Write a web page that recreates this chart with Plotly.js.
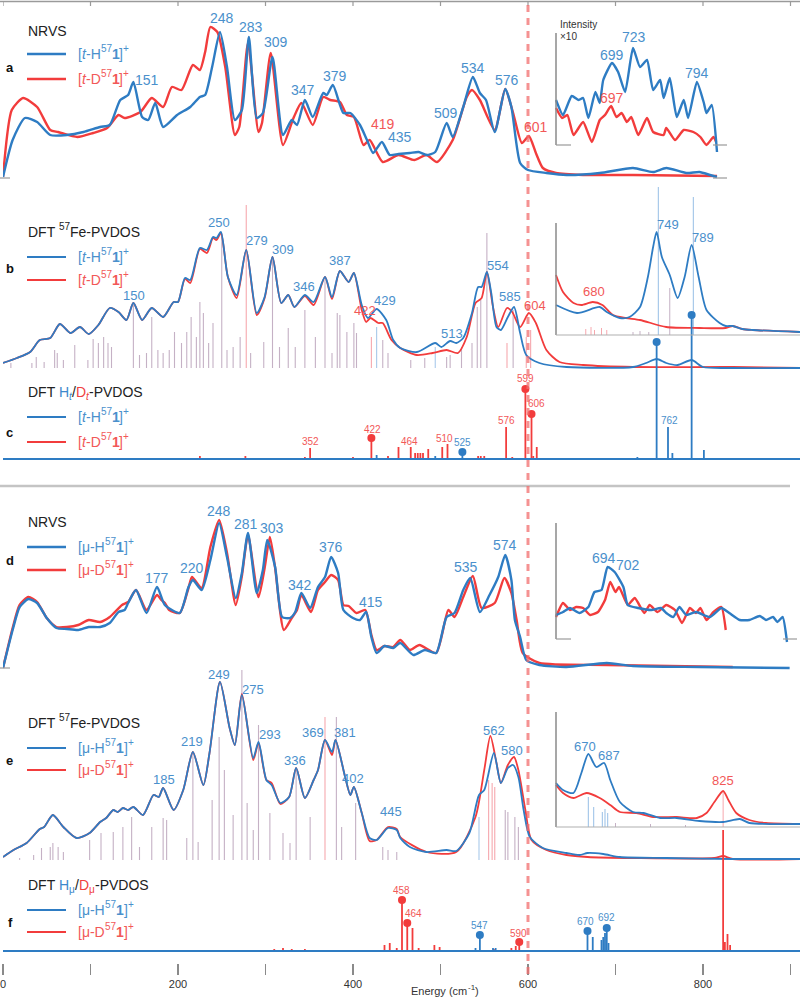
<!DOCTYPE html>
<html><head><meta charset="utf-8">
<script src="https://cdn.plot.ly/plotly-3.0.1.min.js"></script>
<style>html,body{margin:0;padding:0;background:#fff}#chart{width:800px;height:998px}</style>
</head><body><div id="chart"></div>
<script>
// ===== DATA (energy in cm-1, intensity in arbitrary units) =====
const tickVals = [0,200,400,600,800];
const tickText = ['0','200','400','600','800'];
const frameTicks = [0,100,200,300,400,500,600,700,800,900];

// Panel a: NRVS t-isomer
const aH = [[0,0],[11,37],[25,59],[39,55],[54,42],[73,42],[92,45],[111,50],[122,52],[134,77],[143,82],[149,95],[159,60],[166,57],[174,74],[183,50],[199,62],[214,70],[225,80],[231,82],[239,110],[248,145],[256,110],[265,57],[273,67],[281,140],[290,59],[297,64],[308,120],[320,42],[330,57],[336,52],[345,77],[354,60],[366,84],[370,82],[377,92],[389,64],[397,64],[408,52],[416,37],[423,24],[433,35],[442,22],[452,23],[465,24],[475,25],[484,22],[494,25],[507,54],[514,40],[526,70],[537,100],[545,84],[552,77],[562,45],[574,88],[581,70],[591,14],[600,7],[621,4],[644,2],[682,4],[720,9],[743,5],[758,9],[781,4],[796,5],[808,2],[816,0]];
const aD = [[0,0],[10,67],[23,79],[39,70],[54,47],[63,45],[85,40],[103,44],[119,49],[132,62],[139,59],[157,65],[170,79],[183,70],[193,90],[204,87],[217,112],[225,107],[231,125],[237,150],[245,145],[254,110],[265,42],[270,50],[280,134],[292,45],[296,54],[306,124],[320,32],[332,59],[341,74],[354,52],[366,80],[374,77],[385,75],[393,62],[401,60],[412,32],[419,37],[434,15],[452,22],[470,17],[484,22],[496,15],[514,37],[530,80],[536,87],[545,77],[562,47],[574,88],[583,64],[593,34],[601,41],[609,24],[617,9],[632,4],[663,2],[720,2],[816,1]];
const aInH = [[632,45],[640,30],[650,49],[658,45],[663,47],[669,27],[677,53],[682,42],[686,65],[696,82],[703,73],[711,53],[720,97],[728,78],[736,85],[743,55],[751,65],[755,47],[762,67],[770,28],[778,45],[783,27],[793,63],[801,42],[804,32],[810,40],[816,-7]];
const aInD = [[632,37],[639,27],[645,30],[652,10],[663,23],[673,3],[682,25],[688,30],[695,39],[701,28],[707,32],[713,23],[718,28],[726,10],[736,27],[743,13],[755,10],[758,17],[768,5],[778,15],[789,13],[797,8],[804,0],[812,8],[815,3]];

// Panel b: DFT 57Fe-PVDOS t-isomer
const bH = [[0,5],[16,10],[31,16],[42,28],[54,30],[65,44],[77,35],[88,41],[98,34],[109,43],[122,60],[132,56],[141,48],[149,65],[159,48],[170,60],[183,51],[195,66],[200,66],[208,90],[214,88],[225,120],[233,118],[240,131],[244,130],[249,136],[257,91],[267,73],[278,118],[290,55],[299,71],[308,111],[318,65],[326,73],[333,61],[345,73],[355,66],[368,91],[376,71],[385,97],[395,86],[401,95],[410,63],[417,50],[427,59],[438,48],[446,28],[454,20],[473,16],[494,25],[501,21],[511,27],[518,25],[526,30],[536,55],[543,81],[547,81],[553,96],[558,75],[564,41],[569,38],[577,51],[584,61],[591,35],[598,13],[613,5],[644,1],[720,1],[735,5],[747,9],[758,5],[771,3],[787,8],[800,1],[834,0],[911,0]];
const bD = [[0,5],[16,10],[31,16],[42,28],[54,30],[65,44],[77,35],[88,41],[98,34],[109,43],[122,60],[132,56],[141,48],[149,65],[159,48],[170,60],[183,51],[195,66],[200,66],[208,89],[214,85],[225,119],[233,115],[240,130],[244,128],[249,135],[257,91],[267,70],[278,118],[290,53],[299,70],[308,111],[318,65],[326,73],[333,61],[345,72],[355,63],[368,91],[376,69],[385,97],[395,86],[401,95],[410,58],[415,46],[420,50],[429,45],[434,45],[444,28],[454,20],[473,13],[491,15],[507,18],[520,15],[530,31],[540,65],[547,70],[553,96],[560,61],[566,41],[576,60],[582,56],[591,41],[601,55],[609,45],[621,18],[636,6],[663,3],[720,1],[834,1],[911,0]];
const bInH = [[632,30],[656,22],[682,28],[690,23],[705,17],[716,18],[728,28],[737,58],[743,88],[747,103],[753,78],[762,60],[771,37],[779,58],[787,90],[795,58],[804,25],[819,12],[826,9],[834,9],[845,6],[857,5],[911,3]];
const bInD = [[632,60],[640,43],[652,32],[661,30],[674,33],[685,30],[697,20],[712,17],[728,15],[758,8],[796,7],[826,7],[834,9],[845,6],[857,5],[911,3]];
const bSticks = [[9,5],[33,5],[38,11],[47,6],[59,18],[62,15],[69,8],[82,23],[97,8],[103,29],[109,25],[115,31],[120,25],[124,21],[149,63],[156,13],[164,15],[170,51],[177,18],[183,15],[190,18],[196,36],[204,25],[210,36],[215,51],[221,31],[225,66],[229,55],[235,25],[240,45],[250,135],[256,18],[263,21],[271,31],[283,15],[298,26],[308,110],[316,21],[326,40],[334,21],[345,58],[357,31],[368,88],[376,15],[382,55],[385,53],[393,36],[401,45],[404,35],[434,28],[440,15],[466,8],[482,10],[507,11],[511,13],[524,21],[536,25],[542,61],[546,68],[553,135],[583,58]];
const bSticksD = [[278,163],[421,31],[576,25],[598,31],[603,38]];
const bSticksH = [[427,41],[494,21]];
const bInSticksH = [[749,148],[789,138]];
const bInSticks = [[762,47],[720,3],[728,4],[738,3]];
const bInSticksD = [[666,6],[672,8],[676,5],[684,7],[690,5]];

// Panel c: DFT Ht/Dt-PVDOS
const cD = [[225,3],[277,3],[345,2],[351,11],[400,2],[421,21],[440,3],[452,12],[466,12],[471,6],[474,6],[477,6],[480,6],[486,10],[502,12],[508,15],[543,3],[546,3],[550,3],[575,32],[582,2],[597,70],[604,45],[606,3],[610,12]];
const cH = [[127,1],[152,1],[179,1],[195,1],[210,1],[427,4],[494,3],[525,7],[725,2],[747,117],[760,32],[765,6],[787,144],[801,9],[820,1]];
const cDotsD = [[421,21],[597,70],[604,45]];
const cDotsH = [[525,7],[747,117],[787,144]];

// Panel d: NRVS mu-isomer
const dH = [[0,0],[11,38],[19,61],[29,69],[39,65],[50,50],[61,40],[73,39],[86,38],[98,41],[111,41],[122,45],[132,56],[139,58],[143,65],[152,78],[164,55],[176,81],[185,63],[202,55],[212,81],[217,88],[227,78],[237,108],[247,145],[256,111],[266,70],[273,95],[280,135],[290,75],[297,98],[302,128],[311,101],[319,51],[328,50],[334,56],[341,75],[351,60],[360,81],[368,91],[375,111],[383,95],[389,58],[400,50],[408,48],[415,56],[421,31],[427,15],[436,22],[446,20],[454,25],[469,13],[482,18],[495,15],[507,51],[516,55],[526,78],[534,90],[545,56],[556,73],[566,91],[574,113],[581,88],[585,48],[591,31],[598,8],[613,3],[644,1],[690,5],[720,2],[796,1],[899,0]];
const dD = [[0,0],[11,40],[19,63],[29,71],[39,66],[50,50],[61,41],[73,41],[86,43],[98,48],[111,46],[122,51],[136,63],[143,66],[152,78],[164,58],[176,73],[181,68],[185,65],[190,58],[202,55],[212,80],[216,91],[227,80],[237,121],[247,148],[256,115],[266,63],[273,92],[280,133],[292,71],[299,100],[305,131],[311,100],[321,38],[330,50],[336,58],[341,73],[352,56],[360,78],[368,86],[375,93],[383,88],[389,63],[395,62],[404,55],[414,58],[421,33],[427,18],[436,22],[446,21],[454,28],[465,18],[476,23],[495,15],[509,58],[516,51],[526,71],[537,92],[547,60],[562,65],[573,90],[581,75],[587,48],[594,15],[613,5],[690,3],[834,1]];
const dInH = [[632,24],[640,27],[648,31],[659,26],[669,32],[676,47],[684,49],[691,72],[699,67],[709,52],[714,34],[726,31],[741,29],[752,31],[758,26],[766,22],[773,32],[781,24],[792,27],[808,22],[821,31],[830,26],[842,19],[853,19],[865,23],[872,19],[880,22],[885,17],[891,22],[896,-3]];
const dInD = [[632,22],[640,36],[648,29],[655,32],[663,31],[671,24],[680,27],[688,39],[694,57],[700,47],[704,52],[714,34],[722,41],[733,26],[739,34],[748,27],[758,34],[768,29],[776,16],[785,31],[792,26],[797,31],[804,19],[812,27],[821,32],[826,9]];

// Panel e: DFT 57Fe-PVDOS mu-isomer
const eH = [[0,3],[12,10],[27,17],[42,31],[47,33],[57,45],[69,33],[84,22],[99,27],[111,38],[118,42],[126,50],[131,48],[137,52],[143,50],[149,53],[160,45],[172,65],[178,63],[183,72],[195,50],[206,70],[217,108],[229,75],[236,107],[248,178],[259,132],[265,115],[273,165],[286,102],[292,118],[301,80],[307,75],[317,57],[327,63],[335,92],[345,62],[355,80],[360,90],[368,120],[376,108],[380,120],[391,83],[397,65],[401,73],[410,47],[419,22],[427,20],[440,32],[450,30],[454,22],[465,13],[484,8],[507,10],[518,9],[533,27],[544,65],[550,70],[561,107],[569,77],[577,92],[583,95],[589,83],[595,50],[602,23],[617,12],[644,7],[659,5],[668,7],[686,6],[705,3],[758,2],[834,1],[911,1]];
const eD = [[0,3],[12,10],[27,17],[42,31],[47,33],[57,45],[69,33],[84,22],[99,27],[111,38],[118,42],[126,50],[131,48],[137,52],[143,50],[149,53],[160,45],[172,65],[178,63],[183,72],[195,50],[206,70],[217,108],[229,75],[236,107],[248,178],[259,132],[265,115],[273,166],[286,100],[292,117],[301,80],[307,77],[317,56],[327,63],[335,92],[345,62],[355,80],[360,90],[368,120],[376,105],[380,120],[391,83],[397,65],[401,73],[410,47],[419,19],[427,20],[440,33],[450,31],[454,23],[484,8],[518,8],[540,43],[550,90],[557,124],[564,97],[569,77],[577,95],[584,103],[589,90],[597,50],[604,20],[621,10],[644,5],[668,3],[720,2],[813,2],[823,4],[834,1],[911,1]];
const eInH = [[632,44],[640,37],[652,34],[661,54],[669,73],[678,60],[687,64],[694,47],[705,25],[720,15],[732,14],[751,9],[770,9],[796,6],[823,5],[842,8],[853,4],[911,3]];
const eInD = [[632,42],[640,34],[652,29],[667,34],[682,29],[694,22],[705,15],[724,14],[743,10],[770,10],[793,9],[804,14],[813,25],[823,36],[829,27],[838,14],[853,7],[872,4],[911,3]];
const eSticks = [[19,2],[35,5],[44,12],[54,13],[57,17],[63,13],[69,8],[99,20],[112,27],[126,28],[137,33],[147,43],[156,13],[170,33],[183,42],[187,40],[210,22],[217,107],[223,18],[239,60],[247,123],[253,90],[263,45],[273,190],[279,57],[286,30],[292,135],[305,47],[320,27],[328,17],[335,90],[351,43],[381,143],[387,33],[403,57],[434,13],[440,10],[450,8],[574,50],[577,48],[585,43],[589,33]];
const eSticksD = [[368,143],[555,80],[559,77],[562,73]];
const eSticksH = [[544,43]];
const eInSticksH = [[669,30],[675,20],[685,15],[688,18],[691,14]];
const eInSticks = [[700,4],[740,3],[780,2]];
const eInSticksD = [[823,36]];

// Panel f: DFT Hmu/Dmu-PVDOS
const fD = [[120,1],[240,1],[280,1],[310,2],[320,3],[330,2],[345,2],[355,1],[436,6],[442,8],[450,3],[456,51],[462,28],[468,23],[475,3],[493,6],[499,4],[561,2],[581,3],[586,5],[590,9],[823,121],[825,9],[828,17],[831,6]];
const fH = [[100,1],[150,1],[200,1],[250,1],[300,1],[540,3],[545,16],[560,3],[563,3],[668,20],[674,14],[684,11],[686,14],[688,18],[690,23],[692,8],[817,1]];
const fDotsD = [[456,51],[462,28],[590,9]];
const fDotsH = [[545,16],[668,20],[690,23]];

// Peak labels [energy, height, text]
const labA_H = [[165,97,'151'],[250,159,'248'],[283,150,'283'],[312,135,'309'],[343,87,'347'],[379,101,'379'],[454,40,'435'],[506,64,'509'],[537,109,'534'],[576,97,'576']];
const labA_D = [[434,53,'419'],[609,50,'601']];
const labAin_H = [[696,90,'699'],[721,108,'723'],[793,72,'794']];
const labAin_D = [[696,47,'697']];
const labB_H = [[150,73,'150'],[247,146,'250'],[290,128,'279'],[320,119,'309'],[344,82,'346'],[385,108,'387'],[437,68,'429'],[513,35,'513'],[566,103,'554'],[579,72,'585']];
const labB_D = [[414,58,'422'],[608,63,'604']];
const labBin_H = [[760,111,'749'],[800,98,'789']];
const labBin_D = [[675,44,'680']];
const labC_D = [[351,18,'352'],[422,30,'422'],[464,18,'464'],[505,21,'510'],[575,39,'576'],[597,81,'599'],[610,56,'606']];
const labC_H = [[525,17,'525'],[762,39,'762']];
const labD_H = [[176,90,'177'],[216,100,'220'],[247,157,'248'],[278,144,'281'],[307,140,'303'],[339,83,'342'],[375,121,'376'],[421,66,'415'],[529,101,'535'],[574,123,'574']];
const labDin_H = [[687,81,'694'],[714,74,'702']];
const labE_H = [[184,81,'185'],[216,119,'219'],[247,186,'249'],[286,171,'275'],[305,126,'293'],[334,100,'336'],[354,128,'369'],[391,128,'381'],[400,82,'402'],[443,49,'445'],[561,130,'562'],[582,110,'580']];
const labEin_H = [[665,81,'670'],[693,72,'687']];
const labEin_D = [[823,47,'825']];
const labF_D = [[455,61,'458'],[469,38,'464'],[589,18,'590']];
const labF_H = [[545,26,'547'],[666,30,'670'],[690,34,'692']];

// ===== STYLE / GEOMETRY =====
const BLUE = '#2e7cc3', RED = '#f23c3c';
const LBLUE = '#4a90cc', LRED = '#f25858';
const TBLUE = '#3d88cc', TRED = '#f04040';
const MAUVE = 'rgba(140,100,140,0.5)', PINK = 'rgba(240,110,120,0.6)', SKY = 'rgba(110,165,220,0.6)';
const FONT = 'Liberation Sans, Arial, sans-serif';
const FH = 998, PW = 797, LM = 3;
const fy = py => 1 - py / FH;
const fx = px => (px - LM) / PW;

function yax(base, top, below) {
  return {domain: [fy(base + below), fy(top)], range: [-below, base - top], visible: false, fixedrange: true};
}

const traces = [];
function curve(pts, ya, color, w, smooth) {
  traces.push({x: pts.map(p => p[0]), y: pts.map(p => p[1]), xaxis: 'x', yaxis: ya, mode: 'lines',
    line: {color: color, width: w, shape: smooth ? 'spline' : 'linear', smoothing: smooth || 0},
    hoverinfo: 'skip', showlegend: false});
}
function sticks(pts, ya, color, w) {
  const x = [], y = [];
  pts.forEach(p => { x.push(p[0], p[0], null); y.push(0, p[1], null); });
  traces.push({x: x, y: y, xaxis: 'x', yaxis: ya, mode: 'lines', line: {color: color, width: w},
    hoverinfo: 'skip', showlegend: false});
}
function dots(pts, ya, color) {
  traces.push({x: pts.map(p => p[0]), y: pts.map(p => p[1]), xaxis: 'x', yaxis: ya, mode: 'markers',
    marker: {color: color, size: 8}, cliponaxis: false, hoverinfo: 'skip', showlegend: false});
}

// panel a
curve(aD, 'y', RED, 2.4, 0.6); curve(aH, 'y', BLUE, 2.4, 0.6);
curve(aInD, 'y2', RED, 2.4, 0.5); curve(aInH, 'y2', BLUE, 2.4, 0.5);
// panel b
sticks(bSticks, 'y3', MAUVE, 1.1); sticks(bSticksD, 'y3', PINK, 1.1); sticks(bSticksH, 'y3', SKY, 1.1);
sticks(bInSticks, 'y4', MAUVE, 1); sticks(bInSticksD, 'y4', PINK, 1); sticks(bInSticksH, 'y4', SKY, 1.2);
curve(bD, 'y3', RED, 1.8, 0.7); curve(bH, 'y3', BLUE, 1.8, 0.7);
curve(bInD, 'y4', RED, 1.8, 0.7); curve(bInH, 'y4', BLUE, 1.8, 0.7);
// panel c
sticks(cD, 'y5', RED, 1.8); sticks(cH, 'y5', BLUE, 1.8);
dots(cDotsD, 'y5', RED); dots(cDotsH, 'y5', BLUE);
// panel d
curve(dD, 'y6', RED, 2.4, 0.6); curve(dH, 'y6', BLUE, 2.4, 0.6);
curve(dInD, 'y7', RED, 2.4, 0.5); curve(dInH, 'y7', BLUE, 2.4, 0.5);
// panel e
sticks(eSticks, 'y8', MAUVE, 1.1); sticks(eSticksD, 'y8', PINK, 1.1); sticks(eSticksH, 'y8', SKY, 1.1);
sticks(eInSticks, 'y9', MAUVE, 1); sticks(eInSticksD, 'y9', PINK, 1); sticks(eInSticksH, 'y9', SKY, 1.2);
curve(eD, 'y8', RED, 1.8, 0.7); curve(eH, 'y8', BLUE, 1.8, 0.7);
curve(eInD, 'y9', RED, 1.8, 0.7); curve(eInH, 'y9', BLUE, 1.8, 0.7);
// panel f
sticks(fD, 'y10', RED, 1.8); sticks(fH, 'y10', BLUE, 1.8);
dots(fDotsD, 'y10', RED); dots(fDotsH, 'y10', BLUE);

// ===== ANNOTATIONS =====
const ann = [];
function labels(list, yref, color, size) {
  list.forEach(l => ann.push({x: l[0], y: l[1], xref: 'x', yref: yref, text: l[2], showarrow: false,
    xanchor: 'center', yanchor: 'middle', font: {family: FONT, size: size, color: color}}));
}
labels(labA_H, 'y', LBLUE, 14); labels(labA_D, 'y', LRED, 14);
labels(labAin_H, 'y2', LBLUE, 14); labels(labAin_D, 'y2', LRED, 14);
labels(labB_H, 'y3', LBLUE, 13); labels(labB_D, 'y3', LRED, 13);
labels(labBin_H, 'y4', LBLUE, 13); labels(labBin_D, 'y4', LRED, 13);
labels(labC_D, 'y5', LRED, 10); labels(labC_H, 'y5', LBLUE, 10);
labels(labD_H, 'y6', LBLUE, 14); labels(labDin_H, 'y7', LBLUE, 14);
labels(labE_H, 'y8', LBLUE, 13); labels(labEin_H, 'y9', LBLUE, 13); labels(labEin_D, 'y9', LRED, 13);
labels(labF_D, 'y10', LRED, 10); labels(labF_H, 'y10', LBLUE, 10);

// rich text built from plain pieces (no sup/sub tspans)
const ctx = document.createElement('canvas').getContext('2d');
function segSize(s, size) { return (s.sup || s.sub) ? Math.round(size * 0.7) : size; }
function segWidth(s, size) {
  ctx.font = (s.i ? 'italic ' : '') + (s.b ? 'bold ' : '') + segSize(s, size) + 'px "Liberation Sans", Arial, sans-serif';
  return ctx.measureText(s.t).width;
}
function rich(px, py, segs, size, color, center) {
  let x = px;
  if (center) { x -= segs.reduce((a, s) => a + segWidth(s, size), 0) / 2; }
  segs.forEach(s => {
    const sz = segSize(s, size);
    const dy = s.sup ? -size * 0.36 : (s.sub ? size * 0.3 : 0);
    ann.push({x: fx(x), y: fy(py + dy), xref: 'paper', yref: 'paper', text: s.t, showarrow: false,
      xanchor: 'left', yanchor: 'middle', borderpad: 0,
      font: {family: FONT, size: sz, color: s.c || color, weight: s.b ? 'bold' : 'normal', style: s.i ? 'italic' : 'normal'}});
    x += segWidth(s, size);
  });
}
const shapes = [];
function pline(x0, y0, x1, y1, color, w, dash) {
  shapes.push({type: 'line', xref: 'paper', yref: 'paper', x0: fx(x0), x1: fx(x1), y0: fy(y0), y1: fy(y1),
    line: {color: color, width: w, dash: dash || 'solid'}});
}

const tH = [{t: '['}, {t: 't', i: 1}, {t: '-H'}, {t: '57', sup: 1}, {t: '1', b: 1}, {t: ']'}, {t: '+', sup: 1}];
const tD = [{t: '['}, {t: 't', i: 1}, {t: '-D'}, {t: '57', sup: 1}, {t: '1', b: 1}, {t: ']'}, {t: '+', sup: 1}];
const mH = [{t: '[μ-H'}, {t: '57', sup: 1}, {t: '1', b: 1}, {t: ']'}, {t: '+', sup: 1}];
const mD = [{t: '[μ-D'}, {t: '57', sup: 1}, {t: '1', b: 1}, {t: ']'}, {t: '+', sup: 1}];
const titleNRVS = [{t: 'NRVS'}];
const titleFe = [{t: 'DFT '}, {t: '57', sup: 1}, {t: 'Fe-PVDOS'}];
const titleT = [{t: 'DFT '}, {t: 'H', c: TBLUE}, {t: 't', sub: 1, i: 1, c: TBLUE}, {t: '/'}, {t: 'D', c: TRED}, {t: 't', sub: 1, i: 1, c: TRED}, {t: '-PVDOS'}];
const titleM = [{t: 'DFT '}, {t: 'H', c: TBLUE}, {t: 'μ', sub: 1, c: TBLUE}, {t: '/'}, {t: 'D', c: TRED}, {t: 'μ', sub: 1, c: TRED}, {t: '-PVDOS'}];
const panels = [
  {L: 'a', title: titleNRVS, yt: 31, yb: 54, yr: 79, yl: 68, w: 2.6, h: tH, d: tD},
  {L: 'b', title: titleFe, yt: 232, yb: 257, yr: 280, yl: 268, w: 1.8, h: tH, d: tD},
  {L: 'c', title: titleT, yt: 392, yb: 417, yr: 442, yl: 432, w: 1.8, h: tH, d: tD},
  {L: 'd', title: titleNRVS, yt: 522, yb: 547, yr: 570, yl: 560, w: 2.6, h: mH, d: mD},
  {L: 'e', title: titleFe, yt: 723, yb: 748, yr: 770, yl: 760, w: 1.8, h: mH, d: mD},
  {L: 'f', title: titleM, yt: 885, yb: 910, yr: 932, yl: 922, w: 1.8, h: mH, d: mD}
];
panels.forEach(p => {
  rich(27, p.yt, p.title, 14, '#222');
  rich(9, p.yl, [{t: p.L, b: 1}], 13, '#111', true);
  pline(27, p.yb, 66, p.yb, BLUE, p.w);
  pline(27, p.yr, 66, p.yr, RED, p.w);
  rich(77, p.yb, p.h, 14, LBLUE);
  rich(77, p.yr, p.d, 14, LRED);
});
rich(559, 24, [{t: 'Intensity'}], 10, '#333');
rich(559, 37, [{t: '×10'}], 10, '#333');
rich(444, 991, [{t: 'Energy (cm'}, {t: '-1', sup: 1}, {t: ')'}], 11, '#333', true);

// ===== FRAME SHAPES =====
pline(0, 1.5, 800, 1.5, '#9a9a9a', 1.5);
frameTicks.forEach(v => shapes.push({type: 'line', xref: 'x', yref: 'paper', x0: v, x1: v, y0: fy(1), y1: fy(6),
  line: {color: '#9a9a9a', width: 1.2}}));
pline(0, 486, 790, 486, '#c4c4c4', 2.5);
// inset axes
pline(556, 33, 556, 145, '#8a8a8a', 1.5); pline(556, 145, 571, 145, '#9a9a9a', 1.2); pline(713, 145, 727, 145, '#9a9a9a', 1.2);
pline(556, 223, 556, 335, '#8a8a8a', 1.5); pline(556, 335, 800, 335, '#b0b0b0', 1.2);
pline(556, 523, 556, 639, '#8a8a8a', 1.5); pline(556, 639, 571, 639, '#9a9a9a', 1.2); pline(783, 639, 797, 639, '#9a9a9a', 1.2);
pline(556, 712, 556, 827, '#8a8a8a', 1.5); pline(556, 827, 800, 827, '#b0b0b0', 1.2);
// main baselines small ticks
pline(0, 178, 10, 178, '#9a9a9a', 1.2); pline(713, 178, 727, 178, '#9a9a9a', 1.2);
pline(0, 668, 10, 668, '#9a9a9a', 1.2);
// stick panel baselines
shapes.push({type: 'line', xref: 'paper', yref: 'y5', x0: 0, x1: 1, y0: 0, y1: 0, line: {color: BLUE, width: 1.8}});
shapes.push({type: 'line', xref: 'paper', yref: 'y10', x0: 0, x1: 1, y0: 0, y1: 0, line: {color: BLUE, width: 1.8}});
// dashed 600 line
shapes.push({type: 'line', xref: 'x', yref: 'paper', x0: 600, x1: 600, y0: fy(974), y1: fy(4),
  line: {color: 'rgba(242,110,110,0.75)', width: 3, dash: '7px,6px'}});

const layout = {
  width: 800, height: 998, margin: {l: LM, r: 0, t: 0, b: 0},
  paper_bgcolor: '#fff', plot_bgcolor: 'rgba(0,0,0,0)', showlegend: false,
  font: {family: FONT},
  xaxis: {range: [0, PW / 0.875], domain: [0, 1], anchor: 'free', position: fy(963), tickmode: 'array',
    tickvals: tickVals, ticktext: tickText, ticks: 'outside', ticklen: 11, tickwidth: 1.2, tickcolor: '#8a8a8a',
    ticklabeloverflow: 'allow',
    minor: {tickmode: 'linear', tick0: 0, dtick: 100, ticks: 'outside', ticklen: 11, tickwidth: 1.2, tickcolor: '#8a8a8a', showgrid: false},
    showline: false, showgrid: false, zeroline: false, tickfont: {family: FONT, size: 11, color: '#333'}, fixedrange: true},
  yaxis: yax(177, 5, 8),
  yaxis2: yax(145, 15, 12),
  yaxis3: yax(368, 170, 8),
  yaxis4: yax(335, 170, 8),
  yaxis5: yax(459, 300, 8),
  yaxis6: yax(668, 495, 8),
  yaxis7: yax(639, 500, 12),
  yaxis8: yax(860, 655, 5),
  yaxis9: yax(827, 680, 8),
  yaxis10: yax(951, 815, 8),
  shapes: shapes, annotations: ann
};
Plotly.newPlot('chart', traces, layout, {displayModeBar: false, staticPlot: true});
</script></body></html>
